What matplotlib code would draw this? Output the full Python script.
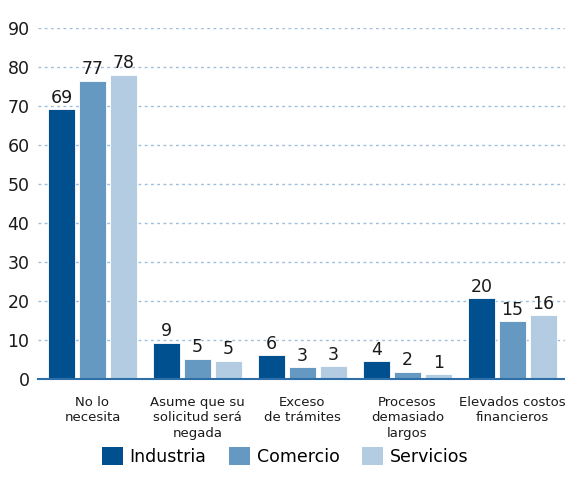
import numpy as np
import matplotlib.pyplot as plt
from matplotlib.patches import Patch

categorias = ["No lo\nnecesita", "Asume que su\nsolicitud será\nnegada", "Exceso\nde trámites",
              "Procesos\ndemasiado\nlargos", "Elevados costos\nfinancieros"]
series = ["Industria", "Comercio", "Servicios"]
industria = [69.2, 9.3, 6.2, 4.6, 20.7]
comercio = [76.5, 5.2, 3.0, 1.9, 14.8]
servicios = [78.0, 4.7, 3.3, 1.3, 16.3]
etiq_industria = [69, 9, 6, 4, 20]
etiq_comercio = [77, 5, 3, 2, 15]
etiq_servicios = [78, 5, 3, 1, 16]
colores = ["#00508f", "#6699c2", "#b3cce1"]

plt.rcParams['font.family'] = ['DejaVu Sans']

fig = plt.figure(figsize=(5.65, 4.91), dpi=100)
ax = fig.add_axes([0.067, 0.228, 0.933, 0.715])

x = np.arange(len(categorias))
w = 0.26
off = 0.295
datos = [industria, comercio, servicios]
etiqs = [etiq_industria, etiq_comercio, etiq_servicios]
for i, (vals, labs) in enumerate(zip(datos, etiqs)):
    pos = x + (i - 1) * off
    ax.bar(pos, vals, width=w, color=colores[i], edgecolor='white', linewidth=0.6, zorder=3)
    for xp, v, l in zip(pos, vals, labs):
        ax.text(xp, v + 0.6, str(l), ha='center', va='bottom', fontsize=12.5, color='#1a1a1a')

ax.set_xlim(-0.52, 4.5)
ax.set_ylim(0, 90)
ax.set_yticks(range(0, 91, 10))
ax.yaxis.grid(True, linestyle=(0, (2, 2.5)), color='#9dbedc', linewidth=1.0, zorder=0)
ax.tick_params(axis='y', length=0, labelsize=12.5, pad=6, labelcolor='#1a1a1a')
ax.set_xticks(x)
ax.set_xticklabels(categorias, fontsize=9.5, color='#1a1a1a', va='top', linespacing=1.25)
ax.tick_params(axis='x', length=0, pad=12)
for s in ['top', 'right', 'left']:
    ax.spines[s].set_visible(False)
ax.spines['bottom'].set_color('#2f6fa8')
ax.spines['bottom'].set_linewidth(1.5)
ax.spines['bottom'].set_zorder(4)

handles = [Patch(facecolor=c, edgecolor='none') for c in colores]
fig.legend(handles, series, loc='center', bbox_to_anchor=(0.505, 0.07), ncol=3, frameon=False,
           fontsize=12.5, handlelength=1.2, handleheight=1.2, handletextpad=0.4, columnspacing=1.3)

fig.savefig('out.png', dpi=100)
